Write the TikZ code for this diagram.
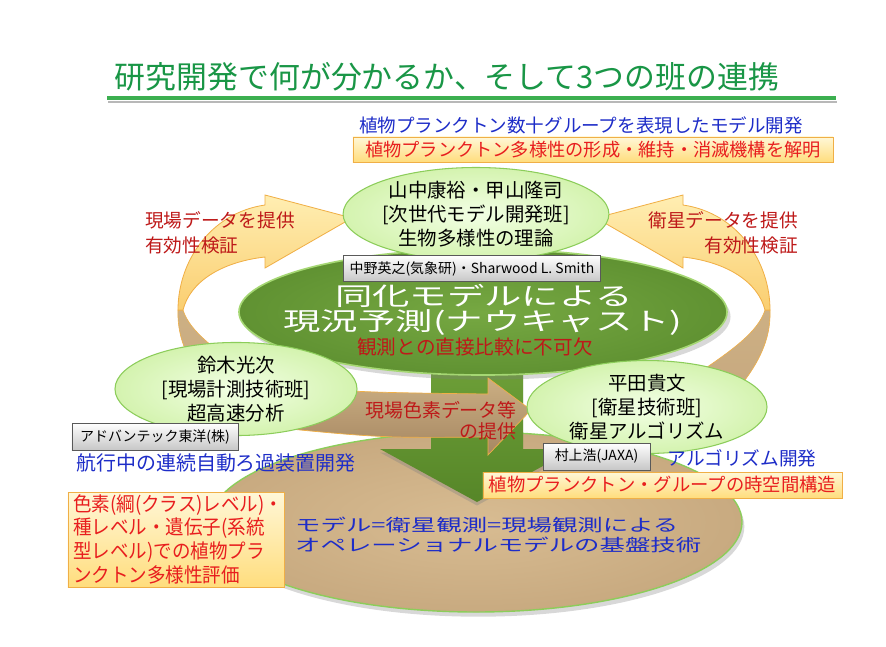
\documentclass[tikz,border=0pt]{standalone}
\usepackage{fontspec}
\setmainfont{Noto Sans CJK JP}
\usetikzlibrary{shadows,shapes.geometric}
\newcommand\pxf[2]{\fontsize{\fpeval{#1*0.8504}pt}{\fpeval{#2*0.8504}pt}\selectfont}
\definecolor{ttlgreen}{RGB}{25,150,70}
\definecolor{lineg}{RGB}{60,175,80}
\definecolor{dred}{RGB}{190,25,25}
\definecolor{bred}{RGB}{232,30,30}
\definecolor{tblue}{RGB}{30,45,200}
\definecolor{lgfill}{RGB}{212,243,175}
\definecolor{lgin}{RGB}{242,255,228}
\definecolor{lgedge}{RGB}{140,205,90}
\definecolor{dgreen}{RGB}{118,168,66}
\definecolor{dgreenout}{RGB}{96,146,50}
\definecolor{dgedge}{RGB}{165,215,115}
\definecolor{tanA}{RGB}{216,188,146}
\definecolor{tanB}{RGB}{200,170,128}
\definecolor{tanC}{RGB}{205,176,132}
\definecolor{tanD}{RGB}{165,135,98}
\definecolor{yelA}{RGB}{255,238,178}
\definecolor{yelB}{RGB}{250,206,112}
\definecolor{yedge}{RGB}{240,175,70}
\definecolor{oboxA}{RGB}{255,247,215}
\definecolor{oboxB}{RGB}{255,221,125}
\definecolor{garA}{RGB}{112,162,58}
\definecolor{garB}{RGB}{86,134,40}
\begin{document}
\begin{tikzpicture}[x=0.03cm,y=-0.03cm,
  lgell/.style={ellipse, draw=lgedge, line width=0.9pt, inner color=lgin, outer color=lgfill, inner sep=0pt, align=center, font=\pxf{19.5}{24}},
  graybox/.style={draw=black!65, line width=0.8pt, top color=white, bottom color=black!22, inner sep=0pt, font=\pxf{14}{17}},
  orbox/.style={draw=yedge, line width=0.8pt, top color=oboxA, bottom color=oboxB, inner sep=0pt},
  yarc/.style={draw=yedge, line width=0.7pt, top color=yelA, bottom color=yelB},
  tarc/.style={draw=yedge, line width=0.5pt, top color=tanC, bottom color=tanB},
  plain/.style={inner sep=0pt}]
\useasboundingbox (0,0) rectangle (886,647);
\fill[white] (0,0) rectangle (886,647);

% title
\node[plain, text=ttlgreen, font=\pxf{31}{36}] (title) at (447,77) {研究開発で何が分かるか、そして3つの班の連携};
\draw[black!28, line width=2.5pt] (108,102) -- (837,102);
\draw[lineg, line width=4pt] (107,98) -- (836,98);

% top texts
\node[plain, text=tblue, font=\pxf{18.6}{22}] (topblue) at (581,125) {植物プランクトン数十グループを表現したモデル開発};
\node[orbox, minimum width=14.4cm, minimum height=0.75cm, text=bred, font=\pxf{18.3}{22}] (topred) at (593,149.5) {植物プランクトン多様性の形成・維持・消滅機構を解明};

% bottom tan ellipse
\node[ellipse, draw=lgedge, line width=1.2pt, fill=tanA, inner color=tanA, outer color=tanB, minimum width=15.96cm, minimum height=5.4cm, drop shadow={shadow xshift=2pt, shadow yshift=-4pt, opacity=0.3}] (base) at (476,522) {};

% green down arrow
\path[top color=garA, bottom color=garB, drop shadow={shadow xshift=0pt, shadow yshift=-3pt, opacity=0.35}]
  (431,350) -- (523,350) -- (523,449) -- (574,449) -- (477,502) -- (380,449) -- (431,449) -- cycle;

% big green ellipse
\node[ellipse, draw=dgedge, line width=1.4pt, inner color=dgreen, outer color=dgreenout, minimum width=14.64cm, minimum height=3.78cm, drop shadow={shadow xshift=3pt, shadow yshift=-4pt, opacity=0.3}] (nowcast) at (483,312) {};

% back (tan) parts of the circular arrows
\path[tarc] (770,310) .. controls (771,335) and (762,357) .. (745,380) -- (700,372) .. controls (732,350) and (758,332) .. (765,310) -- cycle;
\path[tarc] (178,310) .. controls (177,335) and (186,357) .. (203,380) -- (248,372) .. controls (216,350) and (190,332) .. (183,310) -- cycle;

% tan horizontal arrow
\path[draw=yedge, line width=0.6pt, top color=tanC, bottom color=tanD]
  (250,375) .. controls (330,392) .. (488,394) -- (488,378) -- (531,410) -- (488,455) -- (488,437) .. controls (380,438) .. (250,425) -- cycle;

% front (yellow) parts of the circular arrows
\path[yarc] (683,205) .. controls (738,213) and (770,262) .. (770,310) -- (765,310) .. controls (758,282) and (727,262) .. (683,257) -- (683,268) -- (596,218) -- (683,195) -- cycle;
\path[yarc] (265,205) .. controls (210,213) and (178,262) .. (178,310) -- (183,310) .. controls (190,282) and (221,262) .. (265,257) -- (265,268) -- (352,218) -- (265,195) -- cycle;

% light green ellipses
\node[lgell, minimum width=7.26cm, minimum height=2.46cm] (suzuki) at (236,389) {鈴木光次\\{}[現場計測技術班]\\超高速分析};
\node[lgell, minimum width=7.2cm, minimum height=2.7cm] (hirata) at (647,407) {平田貴文\\{}[衛星技術班]\\衛星アルゴリズム};
\node[lgell, minimum width=7.26cm, minimum height=2.34cm] (yamanaka) at (476,214) {山中康裕・甲山隆司\\{}[次世代モデル開発班]\\生物多様性の理論};

% nowcast texts
\node[graybox, minimum width=7.71cm, minimum height=0.78cm] (nakano) at (472,268.5) {中野英之(気象研)・Sharwood L. Smith};
\node[plain, text=white, font=\pxf{25}{28}] (nc1) at (484,296) {\scalebox{1.5}[1]{同化モデルによる}};
\node[plain, text=white, font=\pxf{25}{28}] (nc2) at (483,322) {\scalebox{1.5}[1]{現況予測(ナウキャスト)}};
\node[plain, text=dred, font=\pxf{19.7}{22}] (nc3) at (475,347) {観測との直接比較に不可欠};

% side labels
\node[plain, anchor=west, text=dred, font=\pxf{18.75}{22}] (lab1) at (145,220) {現場データを提供};
\node[plain, anchor=west, text=dred, font=\pxf{18.75}{22}] (lab2) at (145,245) {有効性検証};
\node[plain, anchor=east, text=dred, font=\pxf{18.75}{22}] (lab3) at (798,220) {衛星データを提供};
\node[plain, anchor=east, text=dred, font=\pxf{18.75}{22}] (lab4) at (798,245) {有効性検証};
\node[plain, anchor=east, text=dred, font=\pxf{19}{22}] (pig1) at (517,410) {現場色素データ等};
\node[plain, anchor=east, text=dred, font=\pxf{19}{22}] (pig2) at (517,431) {の提供};

% lower left
\node[graybox, minimum width=4.98cm, minimum height=0.81cm] (advantec) at (155,436.5) {アドバンテック東洋(株)};
\node[plain, text=tblue, font=\pxf{20}{22}] (filt) at (216,463) {航行中の連続自動ろ過装置開発};

% lower right
\node[graybox, minimum width=3.21cm, minimum height=0.81cm] (murakami) at (596.5,456.5) {村上浩(JAXA)};
\node[plain, text=tblue, font=\pxf{18.75}{22}] (algo) at (742,458) {アルゴリズム開発};
\node[orbox, minimum width=10.77cm, minimum height=0.78cm, text=bred, font=\pxf{18.4}{22}] (spatial) at (662.5,485) {植物プランクトン・グループの時空間構造};

% evaluation box
\node[orbox, minimum width=6.48cm, minimum height=2.85cm] (evalbox) at (176,540) {};
\node[plain, anchor=west, text=bred, font=\pxf{20}{22}] (ev1) at (73,505) {\scalebox{0.93}[1]{色素(綱(クラス)レベル)・}};
\node[plain, anchor=west, text=bred, font=\pxf{20}{22}] (ev2) at (73,528) {\scalebox{0.93}[1]{種レベル・遺伝子(系統}};
\node[plain, anchor=west, text=bred, font=\pxf{20}{22}] (ev3) at (73,552) {\scalebox{0.93}[1]{型レベル)での植物プラ}};
\node[plain, anchor=west, text=bred, font=\pxf{20}{22}] (ev4) at (73,575) {\scalebox{0.93}[1]{ンクトン多様性評価}};

% base text
\node[plain, anchor=west, text=tblue, font=\pxf{17}{20}] (bt1) at (295,525) {\scalebox{1.5}[1]{モデル=衛星観測=現場観測による}};
\node[plain, anchor=west, text=tblue, font=\pxf{17}{20}] (bt2) at (295,545) {\scalebox{1.5}[1]{オペレーショナルモデルの基盤技術}};
\end{tikzpicture}
\end{document}
